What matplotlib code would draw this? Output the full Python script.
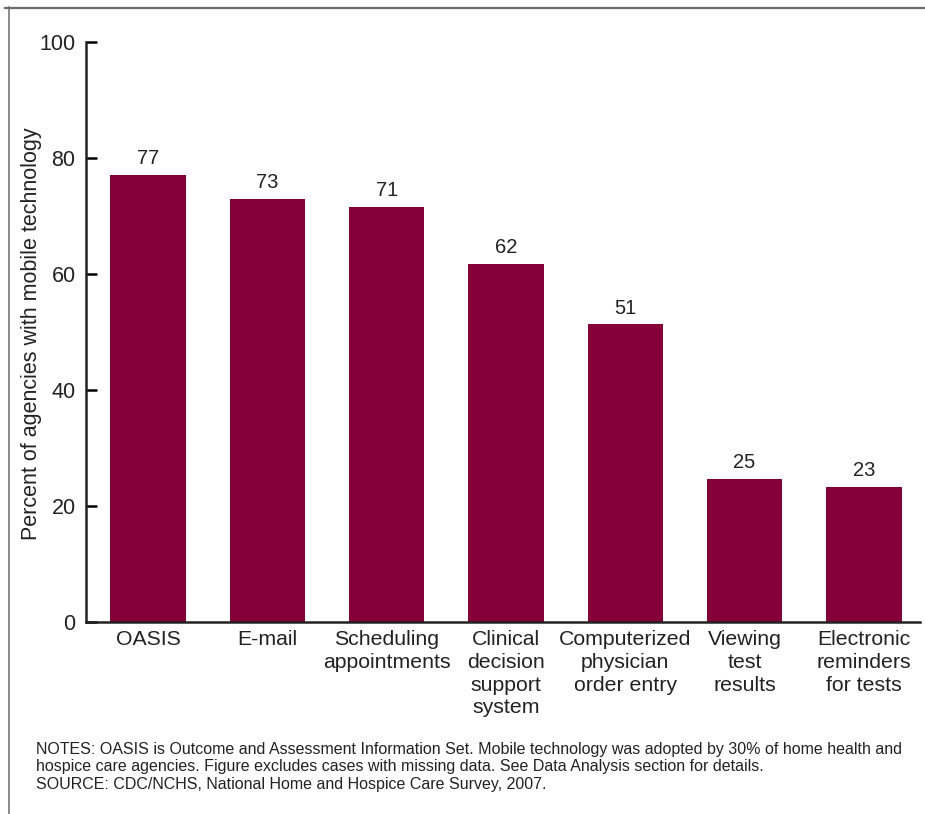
import matplotlib.pyplot as plt
from matplotlib.lines import Line2D

plt.rcParams["font.family"] = ["Liberation Sans", "DejaVu Sans"]

# data
categories = [
    "OASIS",
    "E-mail",
    "Scheduling\nappointments",
    "Clinical\ndecision\nsupport\nsystem",
    "Computerized\nphysician\norder entry",
    "Viewing\ntest\nresults",
    "Electronic\nreminders\nfor tests",
]
values = [77.0, 72.9, 71.5, 61.8, 51.3, 24.7, 23.3]
value_labels = ["77", "73", "71", "62", "51", "25", "23"]
y_ticks = [0, 20, 40, 60, 80, 100]

bar_color = "#850038"
text_color = "#222222"

fig = plt.figure(figsize=(9.25, 8.14), dpi=100)
ax = fig.add_axes([86 / 925, 1 - 622 / 814, (920 - 86) / 925, (622 - 42) / 814])

x = range(len(categories))
bars = ax.bar(x, values, width=0.63, color=bar_color)

for rect, lab in zip(bars, value_labels):
    ax.annotate(lab, (rect.get_x() + rect.get_width() / 2, rect.get_height()),
                xytext=(0, 5), textcoords="offset points",
                ha="center", va="bottom", fontsize=14.5, color=text_color)

ax.set_xlim(-0.52, 6.47)
ax.set_ylim(0, 100)
ax.set_yticks(y_ticks)
ax.set_xticks(list(x))
ax.set_xticklabels(categories, fontsize=15.3, color=text_color, linespacing=1.24)
ax.tick_params(axis="x", length=0, pad=6)
ax.tick_params(axis="y", direction="in", length=8, width=1.8,
               labelsize=15.5, labelcolor=text_color, pad=7.5)

for side in ["top", "right"]:
    ax.spines[side].set_visible(False)
for side in ["left", "bottom"]:
    ax.spines[side].set_linewidth(1.8)
    ax.spines[side].set_color("#222222")

fig.text(32 / 925, 1 - 334 / 814, "Percent of agencies with mobile technology",
         rotation=90, ha="center", va="center", fontsize=15.5, color=text_color)

notes = ("NOTES: OASIS is Outcome and Assessment Information Set. Mobile technology was adopted by 30% of home health and\n"
         "hospice care agencies. Figure excludes cases with missing data. See Data Analysis section for details.\n"
         "SOURCE: CDC/NCHS, National Home and Hospice Care Survey, 2007.")
fig.text(36 / 925, 1 - 742 / 814, notes, ha="left", va="top",
         fontsize=11.5, color=text_color, linespacing=1.2)

# frame lines around the figure
fig.add_artist(Line2D([5 / 925, 1], [1 - 7.5 / 814] * 2, color="#6b6b6b", lw=1.6))
fig.add_artist(Line2D([8.5 / 925] * 2, [0, 1 - 7 / 814], color="#6b6b6b", lw=1.1))

fig.savefig("out.png", dpi=100)
